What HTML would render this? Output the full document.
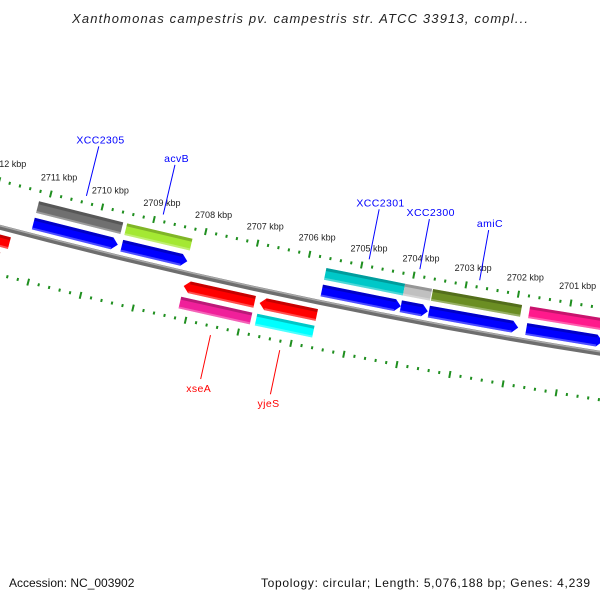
<!DOCTYPE html>
<html><head><meta charset="utf-8">
<style>
html,body{margin:0;padding:0;background:#fff;}
svg{display:block;font-family:"Liberation Sans","DejaVu Sans",sans-serif;}
</style></head>
<body>
<svg id="map" width="600" height="600" viewBox="0 0 600 600" xmlns="http://www.w3.org/2000/svg">
<rect width="600" height="600" fill="#fff"/>
<text x="300" y="23" text-anchor="middle" font-size="13" font-style="italic" fill="#222" textLength="456">Xanthomonas campestris pv. campestris str. ATCC 33913, compl...</text>
<g id="plot"></g>
<text x="9" y="587" font-size="12" fill="#111">Accession: NC_003902</text>
<text x="590" y="587" font-size="12" fill="#111" text-anchor="end" textLength="329">Topology: circular; Length: 5,076,188 bp; Genes: 4,239</text>
</svg>
<script>
// ---- data ----
const geneNames   = ["left-red","left-salmon","XCC2305-cog","XCC2305","acvB-cog","acvB","XCC2301-cog","XCC2301","XCC2300-cog","XCC2300","amiC-cog","amiC","next-cog","next","xseA","xseA-cog","yjeS","yjeS-cog"];
const geneStarts  = [2711520,2711640,2709550,2709550,2708214,2708214,2704131,2704131,2703616,2703616,2701899,2701899,2700300,2700300,2706821,2706821,2705638,2705638];
const geneEnds    = [2712600,2712600,2711180,2711180,2709474,2709474,2705639,2705639,2704131,2704131,2703597,2703597,2701746,2701746,2708176,2708176,2706726,2706726];
const geneTracks  = ["revIn","revOut","fwdOut","fwdIn","fwdOut","fwdIn","fwdOut","fwdIn","fwdOut","fwdIn","fwdOut","fwdIn","fwdOut","fwdIn","revIn","revOut","revIn","revOut"];
const geneColors  = ["#ff0000","#f08080","#707070","#0000ff","#a4e833","#0000ff","#00c8c8","#0000ff","#c0c0c0","#0000ff","#6b8e23","#0000ff","#ff1a8c","#0000ff","#ff0000","#f0209a","#ff0000","#00ffff"];
const labelTexts  = ["XCC2305","acvB","XCC2301","XCC2300","amiC","xseA","yjeS"];
const labelBps    = [2710342,2708853,2704883,2703910,2702765,2707489,2706178];
const labelSides  = ["up","up","up","up","up","down","down"];
const tickStart = 2698800, tickEnd = 2712800, tickStep = 200, majorStep = 1000;

// ---- geometry ----
const CX = 1532, CY = -5579, R = 6005;
const A0 = 104.39, ABP = 2711000, DEG_PER_BP = 0.000511;
function ang(bp){ return (A0 - (ABP - bp) * DEG_PER_BP) * Math.PI / 180; }
function pt(bp, o){ const t = ang(bp), r = R - o; return [CX + r*Math.cos(t), CY + r*Math.sin(t)]; }
const tracks = { fwdOut:[23,35], fwdIn:[6,18], revIn:[-19,-7], revOut:[-36,-24] };
const NS = "http://www.w3.org/2000/svg";
const plot = document.getElementById('plot');
function mk(tag, attrs, parent){ const e = document.createElementNS(NS, tag); for (const k in attrs) e.setAttribute(k, attrs[k]); (parent||plot).appendChild(e); return e; }
function poly(points){ return points.map(p => p[0].toFixed(2)+","+p[1].toFixed(2)).join(" "); }

// backbone
const b1 = pt(2713500, 0), b2 = pt(2697500, 0);
const bb = mk('path', {d:`M${b1[0]},${b1[1]} A${R},${R} 0 0 0 ${b2[0]},${b2[1]}`, fill:'none', stroke:'#6e6e6e', 'stroke-width':5});


const c1 = pt(2713500, 1.5), c2 = pt(2697500, 1.5);
const bbh = mk('path', {d:`M${c1[0]},${c1[1]} A${R-1.5},${R-1.5} 0 0 0 ${c2[0]},${c2[1]}`, fill:'none', stroke:'#a8a8a8', 'stroke-width':1.5});



// ticks
for (let bp = tickStart; bp <= tickEnd; bp += tickStep){
  const major = bp % majorStep === 0;
  const len = major ? 3.5 : 1.5;
  [45, -46].forEach(o => {
    const p1 = pt(bp, o - len), p2 = pt(bp, o + len);
    const t = mk('line', {x1:p1[0], y1:p1[1], x2:p2[0], y2:p2[1], stroke:'#1f8f1f', 'stroke-width':2});
    
    
  });
  if (major){
    const p = pt(bp, 62);
    const tx = mk('text', {x:p[0]+4, y:p[1]+3, 'font-size':9, 'text-anchor':'middle', fill:'#222'});
    tx.textContent = (bp/1000) + " kbp";
    
    
  }
}

// genes
const HEAD = 110;
for (let i = 0; i < geneNames.length; i++){
  const s = geneStarts[i], e = geneEnds[i], tr = geneTracks[i];
  const [oLo, oHi] = tracks[tr];
  const oMid = (oLo + oHi) / 2;
  const g = mk('g', {});
  
  
  let shape, bodyS = s, bodyE = e;
  if (tr === 'fwdIn'){ // arrow tip toward lower bp (right)
    bodyS = s + HEAD;
    shape = [pt(e,oHi), pt(bodyS,oHi), pt(s,oMid), pt(bodyS,oLo), pt(e,oLo)];
  } else if (tr === 'revIn'){ // arrow tip toward higher bp (left)
    bodyE = e - HEAD;
    shape = [pt(s,oHi), pt(bodyE,oHi), pt(e,oMid), pt(bodyE,oLo), pt(s,oLo)];
  } else {
    shape = [pt(s,oHi), pt(e,oHi), pt(e,oLo), pt(s,oLo)];
  }
  mk('polygon', {points:poly(shape), fill:geneColors[i]}, g);
  mk('polygon', {points:poly([pt(bodyS,oHi), pt(bodyE,oHi), pt(bodyE,oHi-3), pt(bodyS,oHi-3)]), fill:'rgba(0,0,0,0.22)'}, g);
  mk('polygon', {points:poly([pt(bodyS,oLo+2), pt(bodyE,oLo+2), pt(bodyE,oLo), pt(bodyS,oLo)]), fill:'rgba(255,255,255,0.3)'}, g);
}

// labels
for (let i = 0; i < labelTexts.length; i++){
  const up = labelSides[i] === 'up';
  const col = up ? '#0000ff' : '#ff0000';
  const p1 = pt(labelBps[i], up ? 52 : -55), p2 = pt(labelBps[i], up ? 103 : -100);
  const ln = mk('line', {x1:p1[0], y1:p1[1], x2:p2[0], y2:p2[1], stroke:col, 'stroke-width':1});
  
  
  const tp = pt(labelBps[i], up ? 110 : -109);
  const tx = mk('text', {x:tp[0], y:tp[1]+4, 'font-size':10.5, 'text-anchor':'middle', fill:col, 'letter-spacing':'0.4'});
  tx.textContent = labelTexts[i];
  
  
}
</script>
</body></html>
